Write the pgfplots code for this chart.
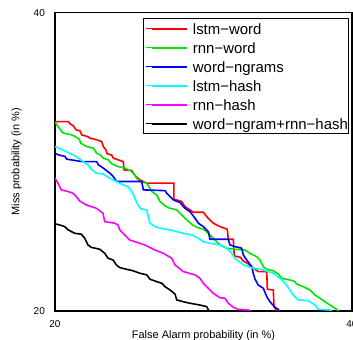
\documentclass[border=0pt]{standalone}
\usepackage{fontspec}
\setmainfont{Liberation Sans}
\usepackage{pgfplots}
\pgfplotsset{compat=1.18}
\definecolor{cred}{RGB}{255,0,0}
\definecolor{cgreen}{RGB}{0,230,0}
\definecolor{cblue}{RGB}{0,0,255}
\definecolor{ccyan}{RGB}{0,255,255}
\definecolor{cmag}{RGB}{255,0,255}
\begin{document}
\begin{tikzpicture}
\begin{axis}[
  at={(0,0)}, anchor=south west,
  width=297bp, height=298.3bp, scale only axis,
  xmin=20, xmax=40, ymin=20, ymax=40,
  xtick={20,40}, ytick={20,40},
  major tick length=0pt,
  axis line style={line width=1.3bp},
  /pgf/number format/assume math mode=true,
  tick label style={font=\fontsize{10}{12}\selectfont, inner sep=0pt},
  xticklabel style={anchor=north, yshift=-9bp},
  yticklabel style={anchor=east, xshift=-10bp},
  xlabel={False Alarm probability (in \%)},
  ylabel={Miss probability (in \%)},
  label style={font=\fontsize{11}{13}\selectfont},
  xlabel style={at={(axis description cs:0.5,-0.0922)}, anchor=base},
  ylabel style={at={(axis description cs:-0.1296,0.5)}, anchor=center},
  legend style={at={(0.991,0.981)}, anchor=north east, draw=black, line width=0.9bp, fill=white,
    font=\fontsize{15}{17}\selectfont, inner xsep=1bp, inner ysep=0.3bp, row sep=0pt, column sep=5bp,
    nodes={inner sep=0pt, text height=15.5bp, text depth=3.5bp}},
  legend cell align=left,
  legend image code/.code={\path (0bp,0bp) -- (6.3bp,0bp); \draw[#1, line width=2bp] (6.3bp,0bp) -- (41.3bp,0bp);},
]
\addplot[cred, line width=1.6bp] coordinates {
(20.00,32.70) (20.90,32.70) (21.01,32.55) (21.23,32.42) (21.41,32.15) (21.68,32.08) (21.80,31.81) (22.18,31.70) (22.36,31.59) (22.81,31.48) (23.14,31.36) (23.25,31.03) (23.43,30.80) (23.52,30.54) (23.82,30.45) (23.93,30.25) (24.26,30.13) (24.60,30.02) (24.65,29.46) (25.16,29.42) (25.39,29.08) (25.72,28.79) (26.18,28.57) (28.01,28.57) (28.01,27.50) (28.53,27.34) (28.75,27.00) (29.09,26.78) (29.31,26.62) (29.99,26.62) (30.17,26.38) (30.39,26.15) (30.66,25.89) (31.11,25.66) (31.60,25.48) (31.67,24.81) (32.01,24.81) (32.07,23.69) (32.50,23.60) (32.64,23.38) (32.95,23.20) (33.24,22.97) (33.69,22.64) (34.26,22.64) (34.30,21.46) (34.70,21.41) (34.75,20.29) (34.93,20.02) (34.95,20.00)
};
\addlegendentry{lstm−word}
\addplot[cgreen, line width=1.6bp] coordinates {
(20.00,32.64) (20.22,32.37) (20.45,32.03) (20.56,31.93) (21.12,31.81) (21.35,31.70) (21.64,31.52) (21.73,31.25) (22.13,31.03) (22.58,30.92) (22.81,30.58) (23.03,30.47) (23.25,30.25) (23.59,30.13) (23.82,29.87) (24.26,29.68) (24.71,29.58) (25.05,29.42) (25.27,29.24) (25.50,28.91) (25.72,28.68) (26.18,28.57) (26.51,28.01) (26.85,27.78) (27.07,27.34) (27.41,27.05) (27.74,26.89) (28.20,26.78) (28.53,26.44) (28.87,26.11) (29.27,25.77) (29.54,25.62) (29.99,25.48) (30.32,25.21) (30.66,24.88) (31.11,24.43) (31.56,24.21) (32.01,24.14) (32.79,24.09) (33.13,23.87) (33.58,23.64) (33.80,23.42) (34.03,22.97) (34.26,22.80) (34.70,22.70) (35.04,22.48) (35.27,22.19) (35.82,22.08) (36.16,21.97) (36.27,21.81) (36.72,21.63) (37.17,21.41) (37.51,21.07) (37.85,20.85) (38.18,20.62) (38.52,20.40) (38.86,20.18) (39.08,20.02) (39.10,20.00)
};
\addlegendentry{rnn−word}
\addplot[cblue, line width=1.6bp] coordinates {
(20.00,30.58) (20.22,30.47) (20.67,30.36) (20.79,30.18) (21.80,30.02) (22.81,30.02) (22.92,29.80) (23.25,29.58) (23.70,29.24) (23.93,29.01) (24.15,28.68) (25.84,28.68) (25.95,28.12) (27.41,28.07) (27.52,27.90) (27.97,27.45) (28.42,27.27) (28.75,26.89) (29.09,26.66) (29.43,26.22) (29.65,25.89) (29.99,25.66) (30.32,25.32) (30.44,24.81) (31.67,24.81) (31.78,24.43) (32.12,24.32) (32.57,24.21) (32.68,23.76) (32.91,23.42) (33.25,22.97) (33.35,22.53) (33.47,22.13) (33.69,21.74) (34.03,21.52) (34.26,20.96) (34.48,20.62) (34.81,20.25) (35.04,20.11) (35.10,20.00)
};
\addlegendentry{word−ngrams}
\addplot[ccyan, line width=1.6bp] coordinates {
(20.00,31.03) (20.54,30.80) (20.99,30.58) (21.43,30.36) (21.89,30.02) (22.22,29.80) (22.44,29.51) (22.78,29.24) (23.23,29.19) (23.68,28.91) (24.13,28.68) (24.58,28.46) (24.92,28.34) (25.25,27.90) (25.37,27.56) (25.59,27.11) (25.77,26.85) (26.18,26.78) (26.28,26.33) (26.40,25.89) (26.73,25.66) (27.07,25.55) (27.74,25.44) (28.20,25.32) (28.64,25.21) (29.21,25.10) (29.65,24.88) (29.99,24.65) (30.44,24.54) (31.11,24.43) (31.56,24.21) (31.90,23.87) (32.12,23.54) (32.68,23.09) (33.35,22.87) (34.03,22.75) (34.70,22.53) (35.15,22.19) (35.49,21.86) (35.82,21.41) (36.05,21.07) (36.38,20.74) (37.06,20.69) (37.51,20.40) (37.73,20.11) (38.52,20.07) (38.63,20.00)
};
\addlegendentry{lstm−hash}
\addplot[cmag, line width=1.6bp] coordinates {
(20.00,28.91) (20.20,28.57) (20.42,28.12) (20.88,28.01) (21.21,27.90) (21.43,27.67) (21.66,27.38) (22.11,27.11) (22.78,26.89) (23.23,26.56) (23.35,25.99) (24.02,25.89) (24.24,25.77) (24.36,25.44) (24.69,25.10) (25.03,24.76) (25.59,24.58) (26.04,24.43) (26.48,24.21) (26.73,24.09) (27.29,23.87) (27.86,23.54) (28.08,23.09) (28.64,22.64) (29.43,22.42) (29.76,22.19) (29.99,21.86) (30.32,21.52) (30.66,21.19) (31.11,20.89) (31.45,20.85) (31.67,20.52) (32.01,20.25) (32.34,20.11) (33.02,20.07) (33.13,20.02) (33.15,20.00)
};
\addlegendentry{rnn−hash}
\addplot[black, line width=1.6bp] coordinates {
(20.00,25.84) (20.32,25.77) (20.65,25.66) (20.88,25.44) (21.33,25.21) (21.77,25.15) (22.00,24.88) (22.22,24.43) (22.44,24.27) (23.01,24.14) (23.35,23.87) (23.57,23.54) (23.91,23.42) (24.13,23.09) (24.36,22.91) (24.80,22.80) (25.25,22.70) (25.72,22.53) (26.18,22.42) (26.40,22.13) (26.85,21.97) (27.19,21.86) (27.41,21.63) (27.74,21.41) (28.08,21.14) (28.20,20.74) (28.64,20.62) (29.09,20.52) (29.76,20.40) (30.22,20.29) (30.33,20.07) (30.44,20.00)
};
\addlegendentry{word−ngram+rnn−hash}
\end{axis}
\pgfresetboundingbox
\useasboundingbox (-55bp,-29bp) rectangle (298bp,311bp);
\end{tikzpicture}
\end{document}
